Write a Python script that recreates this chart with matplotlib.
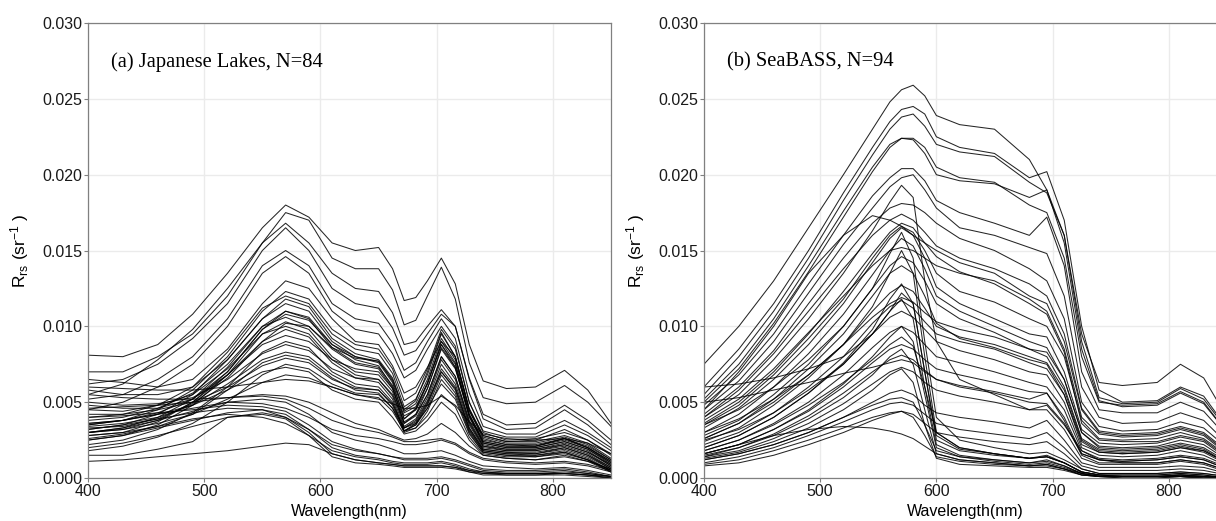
import numpy as np
import matplotlib.pyplot as plt

wl_a = [400, 430, 460, 490, 520, 550, 570, 590, 610, 630, 650, 662, 672,
        682, 692, 704, 716, 728, 740, 760, 785, 810, 830, 850]
wl_b = [400, 430, 460, 490, 520, 545, 560, 570, 580, 590, 600, 620, 650,
        680, 695, 710, 725, 740, 760, 790, 810, 830, 850]

# (a) Japanese lakes, Rrs in 1e-3 sr^-1
rrs_lakes = [
    [8.1, 8.0, 8.8, 10.8, 13.5, 16.5, 18.0, 17.2, 15.5, 15.0, 15.2, 13.8, 11.7, 11.9, 13.0, 14.5, 12.8, 8.8, 6.4, 5.9, 6.0, 7.1, 5.8, 3.6],
    [5.5, 6.2, 7.8, 9.8, 12.5, 15.5, 17.5, 17.0, 14.5, 13.8, 13.8, 12.4, 10.1, 10.4, 12.0, 13.9, 11.8, 7.6, 5.3, 4.9, 5.0, 6.1, 5.0, 3.4],
    [7.0, 7.0, 8.0, 9.5, 12.0, 15.5, 16.8, 15.5, 13.5, 12.5, 12.3, 10.9, 8.8, 9.0, 10.0, 11.1, 10.0, 6.6, 4.2, 3.5, 3.6, 4.8, 3.8, 2.5],
    [6.2, 6.5, 7.5, 9.2, 11.5, 15.0, 16.5, 15.0, 12.5, 11.5, 11.2, 9.9, 8.1, 8.4, 9.5, 10.8, 10.0, 6.5, 3.9, 3.2, 3.3, 4.5, 3.5, 2.2],
    [5.2, 5.5, 6.5, 8.0, 10.5, 14.0, 15.0, 14.0, 11.5, 10.5, 10.2, 8.9, 7.1, 7.6, 9.0, 10.5, 9.2, 5.6, 3.4, 2.9, 2.9, 3.8, 3.0, 2.0],
    [4.5, 5.0, 6.0, 7.5, 10.0, 13.5, 14.6, 13.5, 11.0, 9.8, 9.5, 8.2, 6.6, 7.1, 8.5, 10.0, 8.7, 5.0, 3.1, 2.7, 2.7, 3.5, 2.8, 1.8],
    [6.5, 6.3, 6.0, 6.5, 8.5, 11.5, 13.0, 12.5, 10.5, 9.0, 8.8, 7.4, 5.6, 6.0, 7.3, 9.0, 8.0, 4.6, 2.8, 2.4, 2.5, 3.2, 2.5, 1.6],
    [3.5, 3.8, 4.5, 5.8, 8.0, 11.0, 12.3, 11.8, 9.8, 8.8, 8.5, 7.2, 5.1, 5.6, 7.2, 9.8, 8.5, 5.0, 3.0, 2.5, 2.6, 3.0, 2.5, 1.5],
    [4.0, 4.2, 4.8, 6.0, 8.3, 11.2, 12.0, 11.5, 9.5, 8.5, 8.2, 6.9, 4.7, 5.2, 6.8, 9.5, 8.0, 4.5, 2.8, 2.4, 2.4, 2.8, 2.3, 1.3],
    [3.2, 3.5, 4.2, 5.5, 7.8, 10.5, 11.8, 11.3, 9.2, 8.2, 7.8, 6.6, 4.4, 4.9, 6.5, 9.2, 7.8, 4.4, 2.7, 2.3, 2.3, 2.7, 2.2, 1.2],
    [5.8, 5.5, 5.5, 6.0, 7.8, 10.5, 11.5, 11.0, 9.0, 8.0, 7.7, 6.4, 4.3, 4.7, 6.2, 8.8, 7.5, 4.2, 2.5, 2.2, 2.2, 2.6, 2.0, 1.1],
    [3.0, 3.3, 4.0, 5.2, 7.3, 10.0, 11.0, 10.5, 8.6, 7.6, 7.3, 6.1, 4.1, 4.5, 5.9, 8.5, 7.2, 4.1, 2.4, 2.1, 2.1, 2.5, 2.0, 1.0],
    [2.8, 3.0, 3.7, 5.0, 7.0, 9.8, 10.8, 10.4, 8.8, 8.0, 7.6, 6.3, 3.9, 4.5, 6.2, 9.0, 7.6, 4.1, 2.3, 2.0, 2.0, 2.4, 1.9, 0.9],
    [3.8, 4.0, 4.6, 5.6, 7.5, 10.0, 10.6, 10.0, 8.5, 7.5, 7.2, 5.9, 3.6, 4.1, 5.5, 8.0, 6.7, 3.8, 2.2, 1.9, 1.9, 2.3, 1.8, 0.8],
    [2.5, 2.8, 3.5, 4.8, 6.8, 9.5, 10.3, 9.8, 8.0, 7.0, 6.8, 5.7, 3.4, 3.9, 5.3, 7.8, 6.5, 3.6, 2.1, 1.8, 1.8, 2.2, 1.7, 0.8],
    [4.5, 4.4, 4.8, 5.5, 7.2, 9.5, 10.0, 9.5, 7.8, 6.8, 6.5, 5.4, 3.3, 3.8, 5.1, 7.5, 6.2, 3.5, 2.0, 1.8, 1.8, 2.1, 1.6, 0.7],
    [3.0, 3.2, 3.8, 5.0, 6.8, 9.0, 9.8, 9.3, 7.6, 6.6, 6.3, 5.2, 3.1, 3.6, 4.9, 7.2, 6.0, 3.3, 1.9, 1.7, 1.7, 2.0, 1.5, 0.6],
    [3.6, 3.8, 4.3, 5.2, 6.8, 8.8, 9.4, 9.0, 7.8, 7.2, 7.0, 5.9, 3.9, 4.6, 6.3, 8.8, 7.3, 4.0, 2.3, 2.0, 2.0, 2.4, 1.9, 1.0],
    [2.2, 2.5, 3.2, 4.3, 6.0, 8.3, 9.0, 8.6, 7.0, 6.2, 6.0, 5.0, 3.1, 3.5, 4.8, 7.0, 5.8, 3.2, 1.8, 1.6, 1.6, 1.9, 1.4, 0.6],
    [5.0, 4.8, 4.9, 5.3, 6.5, 8.2, 8.8, 8.4, 7.2, 6.6, 6.5, 5.5, 3.7, 4.2, 5.5, 8.0, 6.7, 3.7, 2.1, 1.9, 1.9, 2.2, 1.7, 0.9],
    [3.4, 3.6, 4.0, 4.8, 6.2, 7.8, 8.3, 8.0, 6.8, 6.0, 5.8, 4.8, 3.1, 3.5, 4.6, 6.8, 5.6, 3.1, 1.8, 1.6, 1.5, 1.8, 1.3, 0.5],
    [2.6, 2.9, 3.4, 4.2, 5.8, 7.6, 8.1, 7.8, 6.6, 5.8, 5.6, 4.6, 3.0, 3.3, 4.4, 6.5, 5.4, 3.0, 1.7, 1.5, 1.5, 1.7, 1.2, 0.5],
    [4.2, 4.2, 4.5, 5.0, 6.0, 7.4, 7.9, 7.6, 6.5, 5.9, 5.8, 4.9, 3.3, 3.7, 5.0, 7.0, 5.9, 3.3, 1.9, 1.7, 1.6, 2.0, 1.5, 0.7],
    [1.8, 2.1, 2.7, 3.6, 5.0, 6.8, 7.5, 7.2, 6.2, 5.6, 5.5, 4.6, 3.3, 3.6, 4.6, 6.2, 5.2, 2.9, 1.7, 1.5, 1.4, 1.7, 1.2, 0.4],
    [6.0, 5.9, 5.8, 5.8, 6.0, 6.3, 6.5, 6.4, 6.0, 5.5, 5.2, 4.9, 4.6, 4.6, 4.8, 5.4, 4.8, 3.7, 2.9, 2.6, 2.5, 2.6, 2.3, 1.6],
    [3.0, 3.2, 3.6, 4.2, 5.2, 6.3, 6.8, 6.6, 6.0, 5.5, 5.3, 4.4, 3.1, 3.3, 4.1, 5.5, 4.7, 2.7, 1.6, 1.4, 1.4, 1.6, 1.2, 0.5],
    [3.5, 3.8, 4.2, 4.6, 5.0, 4.9, 4.6, 4.0, 3.2, 2.8, 2.6, 2.4, 2.2, 2.2, 2.3, 2.5, 2.2, 1.6, 1.2, 1.0, 0.9, 1.0, 0.8, 0.4],
    [3.0, 3.3, 3.8, 4.4, 5.0, 5.2, 5.0, 4.2, 3.0, 2.5, 2.2, 1.9, 1.6, 1.6, 1.7, 1.8, 1.5, 1.1, 0.8, 0.7, 0.6, 0.7, 0.5, 0.2],
    [4.0, 4.1, 4.3, 4.5, 4.8, 4.7, 4.4, 3.5, 2.4, 1.9, 1.6, 1.4, 1.2, 1.2, 1.2, 1.3, 1.1, 0.8, 0.5, 0.4, 0.4, 0.5, 0.3, 0.1],
    [2.5, 2.8, 3.3, 3.8, 4.3, 4.5, 4.2, 3.2, 2.0, 1.5, 1.3, 1.1, 1.0, 1.0, 1.0, 1.1, 0.9, 0.6, 0.4, 0.3, 0.3, 0.4, 0.3, 0.1],
    [3.2, 3.5, 3.9, 4.3, 4.6, 4.5, 4.0, 3.0, 1.6, 1.2, 1.0, 0.9, 0.8, 0.8, 0.8, 0.8, 0.7, 0.4, 0.3, 0.2, 0.2, 0.3, 0.2, 0.0],
    [2.0, 2.3, 2.8, 3.4, 4.0, 4.2, 3.9, 2.8, 1.4, 1.0, 0.9, 0.8, 0.7, 0.7, 0.7, 0.7, 0.6, 0.4, 0.2, 0.2, 0.2, 0.2, 0.1, 0.0],
    [4.6, 4.7, 4.8, 5.0, 5.3, 5.4, 5.2, 4.6, 3.8, 3.3, 3.0, 2.7, 2.4, 2.4, 2.5, 2.6, 2.3, 1.7, 1.3, 1.1, 1.0, 1.1, 0.9, 0.5],
    [2.8, 3.0, 3.4, 3.9, 4.2, 4.0, 3.6, 2.8, 1.8, 1.4, 1.2, 1.0, 0.9, 0.9, 0.9, 1.0, 0.8, 0.5, 0.4, 0.3, 0.3, 0.3, 0.2, 0.0],
    [1.5, 1.5, 1.9, 2.4, 4.0, 4.3, 4.0, 3.2, 2.2, 1.8, 1.6, 1.4, 1.3, 1.3, 1.3, 1.4, 1.2, 0.9, 0.6, 0.5, 0.5, 0.6, 0.4, 0.1],
    [1.1, 1.2, 1.4, 1.6, 1.8, 2.1, 2.3, 2.2, 1.6, 1.2, 1.0, 0.9, 0.8, 0.8, 0.8, 0.8, 0.7, 0.5, 0.3, 0.3, 0.3, 0.3, 0.2, 0.1],
    [5.5, 5.3, 5.2, 5.2, 5.3, 5.5, 5.4, 5.0, 4.3, 3.6, 3.2, 2.8, 2.5, 2.6, 2.9, 3.6, 3.0, 2.1, 1.5, 1.3, 1.2, 1.4, 1.1, 0.6],
    [3.6, 3.8, 4.2, 4.8, 5.8, 7.0, 7.3, 7.0, 5.8, 5.2, 5.0, 4.0, 2.9, 3.1, 3.8, 5.0, 4.2, 2.5, 1.5, 1.3, 1.2, 1.5, 1.1, 0.4],
    [4.8, 4.6, 4.6, 5.2, 7.0, 9.8, 11.0, 10.6, 8.8, 7.8, 7.4, 6.0, 3.6, 4.2, 5.9, 8.6, 7.3, 4.2, 2.4, 2.1, 2.1, 2.6, 2.1, 1.2],
    [3.3, 3.4, 3.9, 4.9, 6.6, 9.0, 10.2, 10.0, 8.6, 7.9, 7.7, 6.5, 4.5, 5.1, 7.0, 9.6, 8.0, 4.5, 2.6, 2.2, 2.1, 2.6, 2.0, 1.1],
]

# (b) SeaBASS, Rrs in 1e-3 sr^-1
rrs_seabass = [
    [7.5, 10.0, 13.0, 16.5, 20.0, 23.0, 24.8, 25.6, 25.9, 25.2, 23.9, 23.3, 23.0, 21.0, 19.0, 16.0, 9.5, 6.3, 6.1, 6.3, 7.5, 6.6, 4.0],
    [6.0, 8.5, 11.5, 15.0, 18.8, 21.8, 23.5, 24.3, 24.5, 24.0, 22.5, 21.8, 21.4, 19.8, 20.2, 17.0, 10.0, 5.8, 5.0, 5.1, 6.0, 5.4, 3.3],
    [5.5, 8.0, 11.0, 14.5, 18.3, 21.3, 23.0, 23.8, 24.0, 23.2, 22.0, 21.5, 21.2, 19.5, 18.8, 16.0, 9.0, 5.3, 4.9, 5.0, 5.9, 5.2, 3.2],
    [5.2, 7.5, 10.5, 14.0, 17.6, 20.5, 22.0, 22.4, 22.4, 21.8, 20.5, 19.8, 19.5, 18.0, 17.5, 14.5, 8.0, 5.0, 4.8, 4.9, 5.7, 5.0, 3.0],
    [5.0, 7.2, 10.2, 13.6, 17.2, 20.2, 21.8, 22.4, 22.3, 21.4, 20.0, 19.6, 19.4, 18.5, 19.0, 15.5, 8.5, 5.1, 4.7, 4.8, 5.6, 4.9, 3.0],
    [4.8, 6.8, 9.5, 12.8, 16.0, 18.6, 19.8, 20.4, 20.4, 19.6, 18.3, 17.5, 16.8, 16.0, 17.2, 14.0, 7.0, 4.5, 4.3, 4.3, 5.0, 4.4, 2.7],
    [4.5, 6.4, 9.0, 12.2, 15.4, 17.8, 19.2, 19.8, 20.0, 19.0, 17.8, 16.5, 16.0, 15.2, 14.8, 12.0, 6.0, 4.0, 3.6, 3.7, 4.3, 3.8, 2.3],
    [4.2, 6.0, 8.4, 11.5, 14.5, 16.8, 17.8, 18.1, 18.0, 17.5, 16.8, 15.8, 15.0, 13.8, 13.0, 10.5, 5.0, 3.4, 3.1, 3.2, 3.7, 3.3, 2.0],
    [4.0, 5.5, 7.8, 10.5, 13.5, 16.3, 18.2, 19.3, 18.5, 13.0, 9.0, 6.5, 5.5, 4.5, 4.8, 3.5, 1.8, 1.2, 1.0, 1.0, 1.2, 1.0, 0.5],
    [3.8, 5.2, 7.2, 9.6, 12.0, 14.0, 15.0, 15.2, 15.0, 14.5, 14.0, 13.5, 13.0, 11.8, 11.0, 8.5, 4.0, 2.9, 2.7, 2.8, 3.2, 2.8, 1.6],
    [4.5, 7.0, 10.0, 13.5, 16.0, 17.3, 17.0, 16.6, 16.0, 15.5, 15.0, 14.2, 13.5, 12.0, 11.5, 9.0, 4.5, 3.0, 2.8, 2.9, 3.3, 2.9, 1.7],
    [3.5, 4.8, 6.8, 9.2, 11.8, 14.5, 16.0, 16.6, 16.2, 15.0, 13.5, 12.3, 11.6, 10.5, 10.0, 8.0, 3.8, 2.6, 2.5, 2.6, 3.0, 2.6, 1.5],
    [3.3, 4.6, 6.5, 8.8, 11.5, 14.2, 15.8, 16.5, 16.0, 14.5, 12.6, 11.5, 10.5, 9.5, 9.3, 7.0, 3.2, 2.3, 2.2, 2.3, 2.7, 2.4, 1.3],
    [3.0, 4.2, 6.0, 8.2, 10.8, 13.4, 15.0, 15.8, 15.3, 13.8, 12.0, 11.0, 10.0, 9.0, 8.6, 6.5, 3.0, 2.1, 2.0, 2.1, 2.5, 2.2, 1.2],
    [3.5, 4.5, 6.0, 7.8, 10.0, 12.5, 14.8, 16.2, 14.5, 9.0, 4.0, 2.5, 2.0, 1.6, 1.7, 1.2, 0.6, 0.3, 0.3, 0.3, 0.4, 0.3, 0.1],
    [2.8, 3.8, 5.5, 7.5, 10.0, 12.5, 14.0, 14.6, 14.2, 13.0, 11.5, 10.5, 9.6, 8.5, 8.0, 6.0, 2.6, 1.9, 1.8, 1.9, 2.2, 1.9, 1.0],
    [2.6, 3.6, 5.2, 7.2, 9.5, 12.0, 13.5, 14.0, 13.5, 12.0, 10.2, 9.2, 8.6, 7.8, 7.5, 5.5, 2.2, 1.7, 1.6, 1.7, 2.0, 1.8, 1.0],
    [3.0, 3.9, 5.2, 6.8, 8.8, 11.3, 13.5, 15.0, 13.5, 8.0, 3.0, 2.0, 1.6, 1.3, 1.4, 1.0, 0.4, 0.2, 0.2, 0.2, 0.3, 0.2, 0.0],
    [2.4, 3.3, 4.8, 6.6, 8.8, 11.0, 12.2, 12.7, 12.3, 11.2, 10.0, 9.3, 8.8, 8.0, 7.6, 5.8, 2.5, 1.8, 1.7, 1.8, 2.1, 1.8, 1.0],
    [6.0, 6.2, 6.6, 7.2, 8.0, 9.5, 11.0, 12.2, 11.5, 7.0, 2.5, 1.8, 1.5, 1.3, 1.4, 1.0, 0.4, 0.2, 0.2, 0.2, 0.3, 0.2, 0.0],
    [2.2, 3.0, 4.3, 6.0, 8.0, 10.2, 11.3, 11.7, 11.2, 10.3, 9.5, 9.0, 8.5, 7.6, 7.2, 5.5, 2.4, 1.7, 1.6, 1.7, 2.0, 1.7, 0.9],
    [2.0, 2.8, 4.0, 5.6, 7.5, 9.5, 10.6, 11.0, 10.6, 9.8, 9.0, 8.4, 7.8, 7.0, 6.8, 5.0, 2.0, 1.5, 1.4, 1.5, 1.8, 1.5, 0.8],
    [2.5, 3.2, 4.3, 5.8, 7.5, 9.5, 11.0, 11.8, 10.5, 6.0, 2.2, 1.5, 1.2, 1.0, 1.1, 0.8, 0.3, 0.1, 0.1, 0.1, 0.2, 0.1, 0.0],
    [1.8, 2.5, 3.6, 5.0, 6.8, 8.6, 9.6, 10.0, 9.6, 8.8, 8.0, 7.6, 7.0, 6.3, 6.0, 4.5, 1.8, 1.3, 1.2, 1.3, 1.5, 1.3, 0.7],
    [1.6, 2.2, 3.2, 4.5, 6.2, 8.0, 9.3, 10.0, 9.0, 5.5, 2.0, 1.4, 1.1, 0.9, 1.0, 0.7, 0.3, 0.1, 0.1, 0.1, 0.1, 0.1, 0.0],
    [1.6, 2.2, 3.2, 4.4, 6.0, 7.6, 8.5, 8.8, 8.5, 7.8, 7.2, 6.8, 6.3, 5.7, 5.6, 4.0, 1.6, 1.2, 1.1, 1.2, 1.4, 1.2, 0.6],
    [1.5, 2.0, 2.8, 3.9, 5.3, 6.8, 8.0, 8.5, 7.5, 4.5, 1.6, 1.2, 1.0, 0.8, 0.9, 0.6, 0.2, 0.1, 0.1, 0.1, 0.1, 0.0, 0.0],
    [5.0, 5.3, 5.8, 6.3, 6.9, 7.3, 7.6, 7.8, 7.6, 7.0, 6.5, 6.0, 5.6, 5.0, 4.9, 3.6, 1.6, 1.2, 1.1, 1.2, 1.4, 1.2, 0.6],
    [1.4, 1.8, 2.6, 3.6, 4.9, 6.2, 7.0, 7.3, 7.0, 6.3, 5.8, 5.4, 5.0, 4.5, 4.5, 3.2, 1.3, 0.9, 0.9, 0.9, 1.1, 0.9, 0.4],
    [1.3, 1.7, 2.4, 3.3, 4.5, 5.8, 6.8, 7.2, 6.3, 3.5, 1.3, 0.9, 0.8, 0.7, 0.7, 0.5, 0.2, 0.1, 0.0, 0.0, 0.1, 0.0, 0.0],
    [1.2, 1.6, 2.2, 3.0, 4.0, 5.0, 5.6, 5.8, 5.5, 4.8, 4.3, 4.0, 3.7, 3.3, 3.8, 2.5, 1.0, 0.7, 0.7, 0.7, 0.8, 0.7, 0.3],
    [1.2, 1.6, 2.2, 3.0, 4.0, 4.8, 5.2, 5.3, 5.0, 3.5, 1.8, 1.4, 1.2, 1.0, 1.2, 0.8, 0.3, 0.1, 0.1, 0.1, 0.2, 0.1, 0.0],
    [1.0, 1.4, 2.0, 2.8, 3.7, 4.5, 4.9, 5.0, 4.8, 4.2, 3.6, 3.2, 2.9, 2.6, 3.0, 2.0, 0.8, 0.5, 0.5, 0.5, 0.6, 0.5, 0.2],
    [0.9, 1.2, 1.8, 2.5, 3.3, 4.0, 4.3, 4.4, 4.0, 2.8, 1.4, 1.1, 0.9, 0.8, 0.9, 0.6, 0.2, 0.1, 0.0, 0.0, 0.1, 0.0, 0.0],
    [1.6, 2.2, 2.8, 3.2, 3.4, 3.3, 3.1, 2.9, 2.6, 2.1, 1.6, 1.2, 1.0, 0.8, 0.8, 0.6, 0.3, 0.1, 0.1, 0.1, 0.1, 0.0, 0.0],
    [0.8, 1.0, 1.5, 2.2, 3.0, 3.8, 4.2, 4.4, 4.2, 3.6, 3.0, 2.7, 2.4, 2.2, 2.4, 1.6, 0.6, 0.3, 0.3, 0.3, 0.4, 0.3, 0.1],
    [4.0, 5.8, 8.2, 11.0, 13.8, 16.0, 17.0, 17.4, 17.0, 16.2, 15.3, 14.5, 13.8, 12.8, 12.0, 9.5, 4.6, 3.1, 2.9, 3.0, 3.4, 3.0, 1.8],
    [3.6, 5.0, 7.0, 9.5, 12.3, 14.8, 16.2, 16.8, 16.5, 15.5, 14.6, 13.6, 12.8, 11.5, 10.8, 8.3, 3.6, 2.5, 2.4, 2.4, 2.8, 2.5, 1.4],
    [2.0, 2.8, 4.0, 5.6, 7.6, 9.8, 11.8, 12.8, 11.5, 7.0, 2.8, 1.9, 1.6, 1.3, 1.4, 1.0, 0.4, 0.2, 0.1, 0.1, 0.2, 0.1, 0.0],
    [2.6, 3.6, 5.0, 6.8, 8.8, 10.6, 11.5, 11.9, 11.6, 10.9, 10.3, 9.8, 9.3, 8.5, 8.3, 6.5, 3.0, 2.0, 1.9, 2.0, 2.3, 2.0, 1.1],
    [1.4, 2.0, 2.9, 4.1, 5.6, 7.0, 7.8, 8.1, 7.8, 7.1, 6.5, 6.1, 5.7, 5.2, 5.6, 3.8, 1.5, 1.0, 1.0, 1.0, 1.2, 1.0, 0.5],
    [1.8, 2.5, 3.5, 4.8, 6.3, 7.8, 8.8, 9.3, 8.7, 6.0, 3.0, 2.0, 1.6, 1.3, 1.5, 1.0, 0.4, 0.2, 0.1, 0.1, 0.2, 0.1, 0.0],
]

panel_labels = ["(a) Japanese Lakes, N=84", "(b) SeaBASS, N=94"]

plt.rcParams['font.family'] = ['Liberation Sans', 'DejaVu Sans']
plt.rcParams['mathtext.fontset'] = 'custom'
plt.rcParams['mathtext.rm'] = 'Liberation Sans'
plt.rcParams['mathtext.it'] = 'Liberation Sans:italic'

fig = plt.figure(figsize=(12.16, 5.21), dpi=100)
ax_a = fig.add_axes([0.0724, 0.0825, 0.4301, 0.8733])
ax_b = fig.add_axes([0.5789, 0.0825, 0.4301, 0.8733])

for ax, wl, spectra, label in [(ax_a, wl_a, rrs_lakes, panel_labels[0]),
                               (ax_b, wl_b, rrs_seabass, panel_labels[1])]:
    for row in spectra:
        ax.plot(wl, np.array(row) * 1e-3, color='black', lw=0.75, alpha=0.85)
    ax.set_xlim(400, 850)
    ax.set_ylim(0, 0.030)
    ax.set_xticks([400, 500, 600, 700, 800])
    ax.set_yticks([0.0, 0.005, 0.010, 0.015, 0.020, 0.025, 0.030])
    ax.set_yticklabels(['0.000', '0.005', '0.010', '0.015', '0.020', '0.025', '0.030'])
    ax.grid(True, color='#ebebeb', lw=1.0)
    ax.set_axisbelow(True)
    for sp in ax.spines.values():
        sp.set_color('#808080')
        sp.set_linewidth(0.9)
    ax.tick_params(direction='out', length=3, width=0.8, color='#808080',
                   labelsize=11.5, labelcolor='#1a1a1a', pad=1)
    ax.set_xlabel('Wavelength(nm)', fontsize=11.5, labelpad=4)
    ax.set_ylabel(r'R$_{\rm rs}$ (sr$^{-1}$ )', fontsize=12.5, labelpad=8)
    ax.text(0.044, 0.914, label, transform=ax.transAxes, fontsize=14.8,
            family='Liberation Serif', va='center', ha='left')

fig.savefig('out.png', dpi=100)
